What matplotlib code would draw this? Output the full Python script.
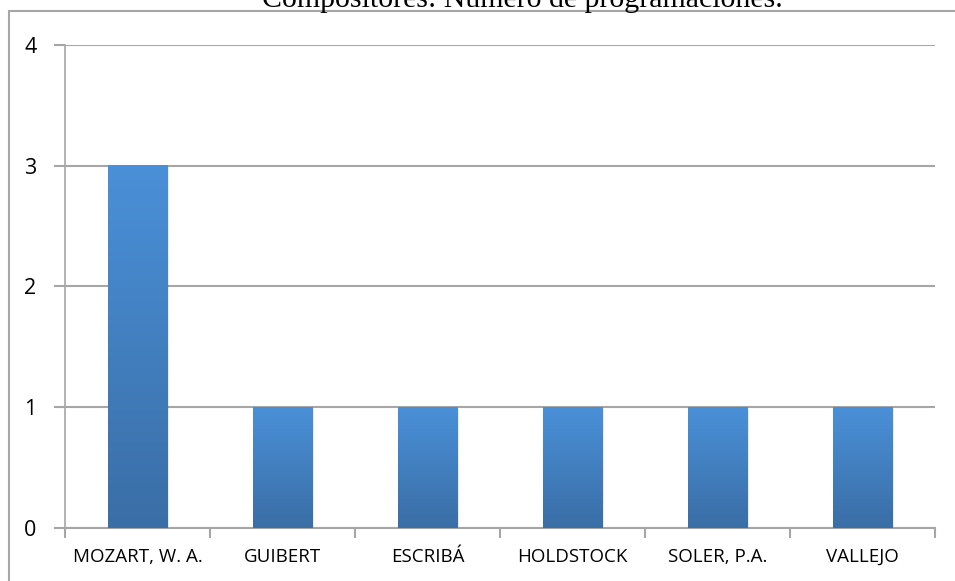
import matplotlib
matplotlib.use("Agg")
import matplotlib.pyplot as plt
import numpy as np
from matplotlib.patches import Rectangle

# datos del grafico
compositores = ["MOZART, W. A.", "GUIBERT", "ESCRIBÁ", "HOLDSTOCK", "SOLER, P.A.", "VALLEJO"]
programaciones = [3, 1, 1, 1, 1, 1]
titulo = "Compositores: Número de programaciones."

gris = "#a6a6a6"

fig = plt.figure(figsize=(9.55, 5.81), dpi=100)
ax = fig.add_axes([0.068, 0.091, 0.911, 0.832])

x = np.arange(len(compositores))
ancho = 0.41

# degradado vertical: claro arriba, oscuro abajo
grad = np.linspace(0, 1, 256).reshape(-1, 1)
cmap = matplotlib.colors.LinearSegmentedColormap.from_list("azul", ["#3a6ea6", "#4a90d8"])

for xi, v in zip(x, programaciones):
    # sombra suave
    ax.add_patch(Rectangle((xi - ancho / 2 + 0.015, 0), ancho, v - 0.015,
                           facecolor="#000000", alpha=0.08, edgecolor="none", zorder=2))
    ax.imshow(grad, extent=(xi - ancho / 2, xi + ancho / 2, 0, v), origin="lower",
              cmap=cmap, aspect="auto", zorder=3)

ax.set_xlim(-0.5, len(compositores) - 0.5)
ax.set_ylim(0, 4)
ax.set_yticks([0, 1, 2, 3, 4])
ax.yaxis.grid(True, color=gris, linewidth=1.5)
ax.set_axisbelow(True)

for s in ["top", "right"]:
    ax.spines[s].set_visible(False)
ax.spines["left"].set_color(gris)
ax.spines["bottom"].set_color(gris)
ax.spines["left"].set_linewidth(1.2)
ax.spines["bottom"].set_linewidth(1.5)

ax.set_xticks(x)
ax.set_xticklabels(compositores, fontsize=13.5, family="Open Sans")
ax.set_xticks(np.arange(-0.5, len(compositores)), minor=True)
ax.tick_params(axis="x", which="major", length=0, pad=14)
ax.tick_params(axis="x", which="minor", length=7, color=gris, width=1.5)
ax.tick_params(axis="y", length=8, color=gris, width=1.5, pad=17, labelsize=15.5)
for t in ax.get_yticklabels():
    t.set_family("Open Sans")
    t.set_ha("center")

fig.text(0.547, 1 - 7 / 581, titulo, ha="center", va="baseline", fontsize=21.5,
         family="Liberation Serif")

# marco exterior
fig.patches.append(Rectangle((9 / 955, -0.05), 1.1, 1 - 11 / 581 + 0.05,
                             transform=fig.transFigure, fill=False,
                             edgecolor=gris, linewidth=1.5))

fig.savefig("out.png", dpi=100)
